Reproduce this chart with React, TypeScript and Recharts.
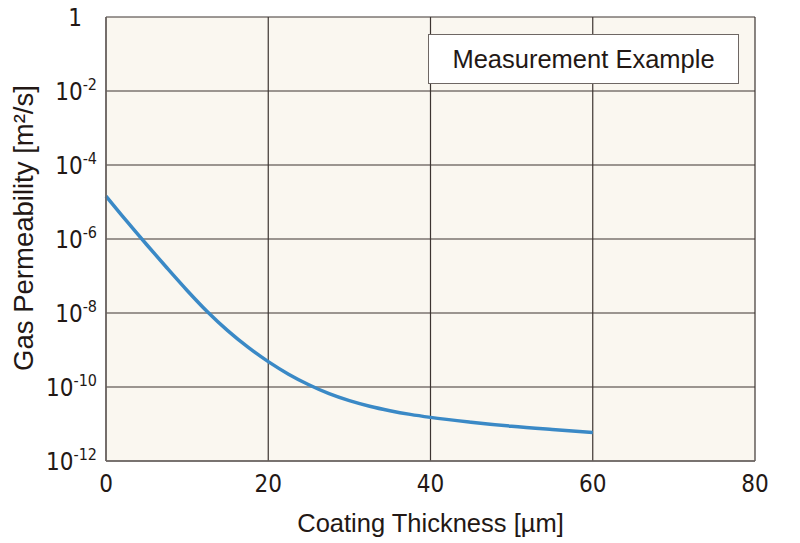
import { LineChart, Line, XAxis, YAxis, CartesianGrid } from 'recharts';

// coating thickness [µm]
const thickness = [0, 2.5, 5, 7.5, 10, 12.5, 15, 17.5, 20, 22.5, 25, 27.5, 30, 32.5, 35, 37.5, 40, 45, 50, 55, 60];
// gas permeability [m²/s]
const permeability = [
  1.45e-5, 3.13e-6, 7.1e-7, 1.67e-7, 4.07e-8, 1.08e-8, 3.33e-9, 1.19e-9, 4.85e-10, 2.22e-10, 1.15e-10,
  6.6e-11, 4.27e-11, 3.02e-11, 2.29e-11, 1.82e-11, 1.51e-11, 1.12e-11, 8.7e-12, 7.1e-12, 5.9e-12,
];

const xTicks = [0, 20, 40, 60, 80];
const yTicks = [1, 1e-2, 1e-4, 1e-6, 1e-8, 1e-10, 1e-12];
const yExponents = ['0', '-2', '-4', '-6', '-8', '-10', '-12'];

const data = thickness.map((t, i) => ({ t, p: permeability[i] }));

const TEXT = '#231815';
const NARROW = '"Liberation Sans Narrow", "DejaVu Sans Condensed", "Arial Narrow", sans-serif';
const REGULAR = '"Liberation Sans", Arial, Helvetica, sans-serif';

function YTick({ x, y, payload }: any) {
  const idx = yTicks.indexOf(payload.value);
  const exp = yExponents[idx];
  if (exp === '0') {
    return (
      <text x={x - 16} y={y} dy={9} textAnchor="end" fontSize={24} fill={TEXT} fontFamily={NARROW}>
        1
      </text>
    );
  }
  return (
    <text x={x - 1} y={y} dy={9} textAnchor="end" fontSize={24} fill={TEXT} fontFamily={NARROW}>
      <tspan>10</tspan>
      <tspan dy={-10} fontSize={16}>{exp}</tspan>
    </text>
  );
}

function XTick({ x, y, payload }: any) {
  return (
    <text x={x} y={y} dy={23} textAnchor="middle" fontSize={24} fill={TEXT} fontFamily={NARROW}>
      {payload.value}
    </text>
  );
}

export default function App() {
  return (
    <div style={{ position: 'relative', width: 800, height: 543, background: '#fff' }}>
      <style>{'body{margin:0}'}</style>
      <LineChart
        width={800}
        height={543}
        data={data}
        margin={{ top: 17, right: 45, left: 36, bottom: 0 }}
      >
        <CartesianGrid fill="#faf7f0" stroke="#3c3431" strokeWidth={1.2} />
        <XAxis
          dataKey="t"
          type="number"
          domain={[0, 80]}
          ticks={xTicks}
          tick={<XTick />}
          tickLine={false}
          axisLine={{ stroke: '#6e6764', strokeWidth: 1.5 }}
          height={82}
          interval={0}
        />
        <XAxis
          xAxisId="top"
          orientation="top"
          dataKey="t"
          type="number"
          domain={[0, 80]}
          tick={false}
          tickLine={false}
          axisLine={{ stroke: '#6e6764', strokeWidth: 1.5 }}
          height={0}
        />
        <YAxis
          dataKey="p"
          scale="log"
          domain={[1e-12, 1]}
          ticks={yTicks}
          tick={<YTick />}
          tickLine={false}
          allowDataOverflow
          interval={0}
          axisLine={{ stroke: '#6e6764', strokeWidth: 1.5 }}
          width={70}
        />
        <YAxis
          yAxisId="right"
          orientation="right"
          scale="log"
          domain={[1e-12, 1]}
          tick={false}
          tickLine={false}
          allowDataOverflow
          axisLine={{ stroke: '#6e6764', strokeWidth: 1.5 }}
          width={0}
        />
        <Line
          dataKey="p"
          type="monotone"
          stroke="#3a89c6"
          strokeWidth={3.5}
          dot={false}
          isAnimationActive={false}
        />
      </LineChart>

      <div
        style={{
          position: 'absolute',
          left: 428,
          top: 34,
          width: 311,
          height: 50,
          boxSizing: 'border-box',
          border: '1.5px solid #6e6764',
          background: '#fff',
          display: 'flex',
          alignItems: 'center',
          justifyContent: 'center',
          fontFamily: REGULAR,
          fontSize: 25.5,
          color: TEXT,
        }}
      >
        Measurement Example
      </div>

      <div
        style={{
          position: 'absolute',
          left: 0,
          width: 861,
          top: 509,
          textAlign: 'center',
          fontFamily: REGULAR,
          fontSize: 25.5,
          color: TEXT,
        }}
      >
        Coating Thickness [µm]
      </div>

      <div
        style={{
          position: 'absolute',
          left: 24,
          top: 228,
          transform: 'translate(-50%, -50%) rotate(-90deg)',
          whiteSpace: 'nowrap',
          fontFamily: REGULAR,
          fontSize: 27.5,
          color: TEXT,
        }}
      >
        Gas Permeability [m²/s]
      </div>
    </div>
  );
}
